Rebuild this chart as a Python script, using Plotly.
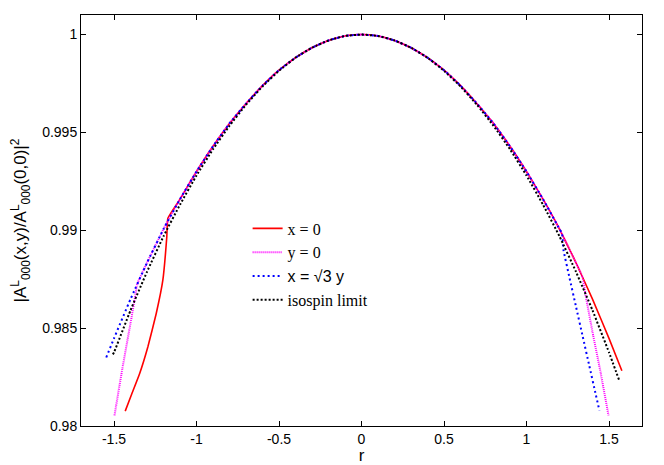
import plotly.graph_objects as go

# x = 0
r_x0 = [-1.432, -1.396, -1.345, -1.295, -1.244, -1.204, -1.180, -1.1735,
        -1.1, -1.0, -0.9, -0.8, -0.7, -0.6, -0.5, -0.4, -0.3, -0.2, -0.1, 0.0,
        0.1, 0.2, 0.3, 0.4, 0.5, 0.6, 0.7, 0.8, 0.9, 1.0, 1.1,
        1.2, 1.3, 1.4, 1.5, 1.578]
v_x0 = [0.98076, 0.98156, 0.98267, 0.98404, 0.98575, 0.98745, 0.98967, 0.99061,
        0.99159, 0.99300, 0.99429, 0.99546, 0.99647, 0.99739, 0.99818, 0.99882, 0.99933, 0.99970, 0.99993, 1.0,
        0.99993, 0.99970, 0.99933, 0.99882, 0.99818, 0.99739, 0.99647, 0.99546, 0.99429, 0.99300, 0.99159,
        0.99006, 0.98834, 0.98648, 0.98448, 0.98282]

# y = 0
r_y0 = [-1.497, -1.45, -1.40, -1.37, -1.36, -1.3, -1.2,
        -1.1, -1.0, -0.9, -0.8, -0.7, -0.6, -0.5, -0.4, -0.3, -0.2, -0.1, 0.0,
        0.1, 0.2, 0.3, 0.4, 0.5, 0.6, 0.7, 0.8, 0.9, 1.0, 1.1,
        1.2, 1.3, 1.34, 1.36, 1.40, 1.45, 1.497]
v_y0 = [0.98054, 0.98290, 0.98525, 0.98670, 0.98724, 0.98834, 0.99006,
        0.99159, 0.99300, 0.99429, 0.99546, 0.99647, 0.99739, 0.99818, 0.99882, 0.99933, 0.99970, 0.99993, 1.0,
        0.99993, 0.99970, 0.99933, 0.99882, 0.99818, 0.99739, 0.99647, 0.99546, 0.99429, 0.99300, 0.99159,
        0.99006, 0.98834, 0.98760, 0.98660, 0.98480, 0.98270, 0.98054]

# x = sqrt(3) y
r_diag = [-1.547, -1.5, -1.4, -1.3, -1.2,
          -1.1, -1.0, -0.9, -0.8, -0.7, -0.6, -0.5, -0.4, -0.3, -0.2, -0.1, 0.0,
          0.1, 0.2, 0.3, 0.4, 0.5, 0.6, 0.7, 0.8, 0.9, 1.0, 1.1,
          1.2, 1.215, 1.224, 1.26, 1.30, 1.34, 1.38, 1.42, 1.442]
v_diag = [0.98350, 0.98448, 0.98648, 0.98834, 0.99006,
          0.99159, 0.99300, 0.99429, 0.99546, 0.99647, 0.99739, 0.99818, 0.99882, 0.99933, 0.99970, 0.99993, 1.0,
          0.99993, 0.99970, 0.99933, 0.99882, 0.99818, 0.99739, 0.99647, 0.99546, 0.99429, 0.99300, 0.99159,
          0.99006, 0.98985, 0.98900, 0.98760, 0.98610, 0.98460, 0.98310, 0.98160, 0.98079]

# isospin limit
r_iso = [-1.507, -1.5, -1.4, -1.3, -1.2, -1.1, -1.0, -0.9, -0.8, -0.7, -0.6, -0.5, -0.4, -0.3, -0.2, -0.1, 0.0,
         0.1, 0.2, 0.3, 0.4, 0.5, 0.6, 0.7, 0.8, 0.9, 1.0, 1.1, 1.2, 1.3, 1.4, 1.5, 1.562]
v_iso = [0.98366, 0.98376, 0.98591, 0.98788, 0.98969, 0.99131, 0.99280, 0.99414, 0.99534, 0.99641, 0.99735,
         0.99815, 0.99882, 0.99933, 0.99970, 0.99993, 1.0,
         0.99993, 0.99970, 0.99933, 0.99882, 0.99815, 0.99735, 0.99641, 0.99534, 0.99414, 0.99280,
         0.99131, 0.98969, 0.98788, 0.98591, 0.98376, 0.98233]

x_ticks = [-1.5, -1, -0.5, 0, 0.5, 1, 1.5]
x_labels = ["-1.5", "-1", "-0.5", "0", "0.5", "1", "1.5"]
y_ticks = [0.98, 0.985, 0.99, 0.995, 1.0]
y_labels = ["0.98", "0.985", "0.99", "0.995", "1"]

sans = "Liberation Sans, Arial, sans-serif"
serif = "Liberation Serif, Times New Roman, serif"

fig = go.Figure()
fig.add_trace(go.Scatter(x=r_x0, y=v_x0, mode="lines", name="x = 0",
                         line=dict(color="#ff0000", width=1.6, shape="spline", smoothing=0.35)))
fig.add_trace(go.Scatter(x=r_y0, y=v_y0, mode="lines", name="y = 0",
                         line=dict(color="#ff00ff", width=2, dash="1px,1px", shape="spline", smoothing=0.35)))
fig.add_trace(go.Scatter(x=r_diag, y=v_diag, mode="lines",
                         name='<span style="font-family:Liberation Sans">x = √3 y</span>',
                         line=dict(color="#0000ff", width=2, dash="2px,3px", shape="spline", smoothing=0.35)))
fig.add_trace(go.Scatter(x=r_iso, y=v_iso, mode="lines", name="isospin limit",
                         line=dict(color="#000000", width=2, dash="2px,2px", shape="spline", smoothing=0.35)))

axis_common = dict(showline=True, linecolor="black", linewidth=1, mirror="ticks",
                   ticks="inside", ticklen=5, tickcolor="black", showgrid=False, zeroline=False,
                   automargin=False, tickfont=dict(family=sans, size=14, color="black"))

fig.update_xaxes(range=[-1.7, 1.7], tickvals=x_ticks, ticktext=x_labels,
                 title=dict(text="r", font=dict(family=sans, size=17, color="black")),
                 **axis_common)
fig.update_yaxes(range=[0.98, 1.001], tickvals=y_ticks, ticktext=y_labels,
                 title=dict(text="|A<sup>L</sup><sub>000</sub>(x,y)/A<sup>L</sup><sub>000</sub>(0,0)|<sup>2</sup>",
                            font=dict(family=sans, size=17, color="black")),
                 **axis_common)

# the page body keeps an 8px margin, so the figure is a bit smaller than the window
fig.update_layout(
    width=656, height=457,
    margin=dict(l=73, r=22, t=7, b=39),
    paper_bgcolor="white", plot_bgcolor="white",
    showlegend=True,
    legend=dict(x=0.297, y=0.522, xanchor="left", yanchor="top",
                bgcolor="rgba(0,0,0,0)", font=dict(family=serif, size=16, color="black"),
                tracegroupgap=0),
)

fig.write_html("out.html")
